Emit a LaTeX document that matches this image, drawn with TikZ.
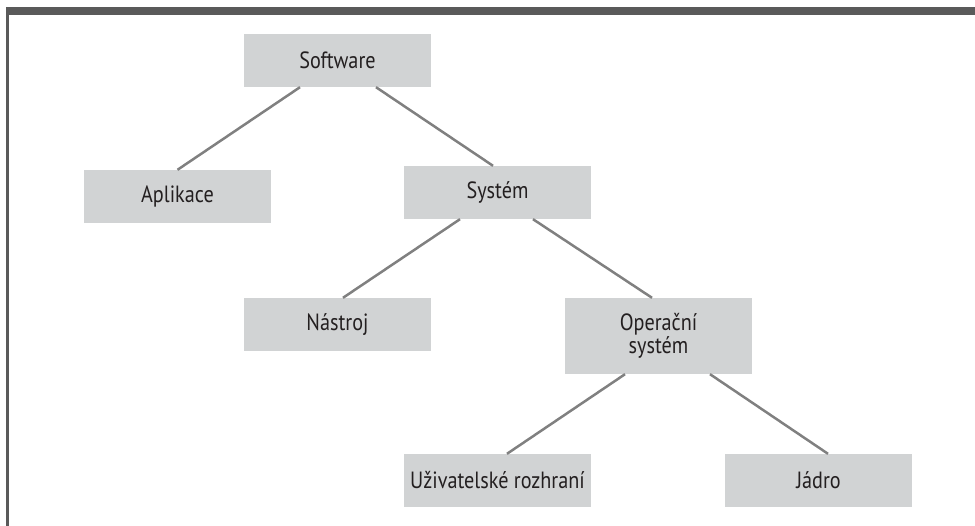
\documentclass[tikz,border=0pt]{standalone}
\usepackage{fontspec}
\setmainfont{PT Sans}[FakeStretch=0.86]
\usetikzlibrary{calc}
\definecolor{boxgray}{HTML}{D1D3D4}
\definecolor{linegray}{HTML}{808080}
\definecolor{framegray}{HTML}{5A5A5A}
\definecolor{textdark}{HTML}{231F20}
\begin{document}
\begin{tikzpicture}[x=1pt,y=-1pt,
  treebox/.style={fill=boxgray, draw=none, minimum width=187pt, minimum height=53pt,
    inner sep=0pt, text=textdark, font=\fontsize{23.5}{23}\selectfont, align=center},
  edge/.style={draw=linegray, line width=2.5pt}]
\useasboundingbox (0,0) rectangle (975,526);
\fill[framegray] (6,7) rectangle (975,15);
\fill[framegray] (6,7) rectangle (9,526);
\node[treebox] (sw) at (337.5,60.5) {Software};
\node[treebox] (ap) at (177.5,196.5) {Aplikace};
\node[treebox] (sy) at (497.5,192.5) {Systém};
\node[treebox] (na) at (337.5,324.5) {Nástroj};
\node[treebox, minimum height=76pt] (os) at (658.5,336) {Operační\\systém};
\node[treebox] (uz) at (497.5,480.5) {Uživatelské rozhraní};
\node[treebox] (ja) at (818.5,480.5) {Jádro};
\draw[edge] ($(sw.south)+(-37.5,0)$) -- (ap.north);
\draw[edge] ($(sw.south)+(38.5,0)$) -- ($(sy.north)+(-4.5,0)$);
\draw[edge] ($(sy.south)+(-37.5,0)$) -- ($(na.north)+(5.5,0)$);
\draw[edge] ($(sy.south)+(35.5,0)$) -- ($(os.north)+(-6.5,0)$);
\draw[edge] ($(os.south)+(-33.5,0)$) -- ($(uz.north)+(9.5,0)$);
\draw[edge] ($(os.south)+(51.5,0)$) -- ($(ja.north)+(9.5,0)$);
\end{tikzpicture}
\end{document}
